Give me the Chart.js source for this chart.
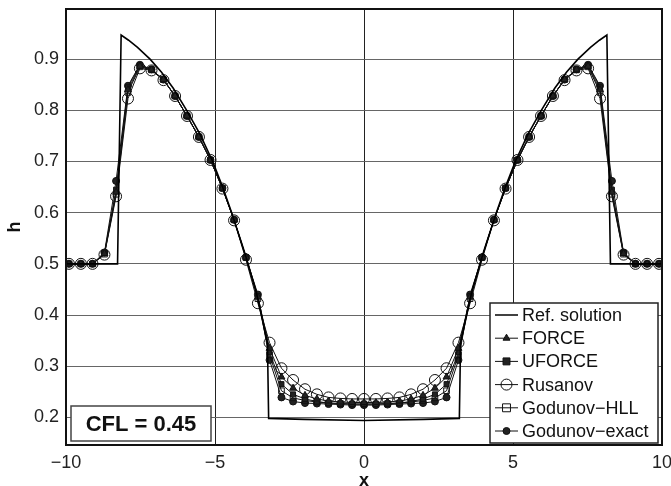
<!DOCTYPE html>
<html lang="en">
<head>
  <meta charset="UTF-8" />
  <title>h profile, CFL = 0.45</title>
  <script src="https://cdn.jsdelivr.net/npm/chart.js"></script>
  <style>
    body { margin: 0; background: #fff; }
    canvas { display: block; }
  </style>
</head>
<body>
  <canvas id="chart" width="671" height="486"></canvas>
  <script>
    const FONT = "'Liberation Sans', Arial, Helvetica, sans-serif";

    const xTickValues = [-10, -5, 0, 5, 10];
    const xTickLabels = ['\u221210', '\u22125', '0', '5', '10'];
    const yTickValues = [0.2, 0.3, 0.4, 0.5, 0.6, 0.7, 0.8, 0.9];
    const yTickLabels = ['0.2', '0.3', '0.4', '0.5', '0.6', '0.7', '0.8', '0.9'];

    // reference solution
    const refX = [-10, -8.27, -8.15, -7.9, -7.6, -7.18, -6.8, -6.4, -5.95, -5.5, -5.07, -4.75, -4.44, -4.0, -3.6, -3.24, -3.2, -2.0, 0,
                  2.0, 3.2, 3.24, 3.6, 4.0, 4.44, 4.75, 5.07, 5.5, 5.95, 6.4, 6.8, 7.18, 7.6, 7.9, 8.15, 8.27, 10];
    const refH = [0.5, 0.5, 0.947, 0.937, 0.923, 0.9, 0.875, 0.843, 0.8, 0.753, 0.699, 0.651, 0.6, 0.521, 0.441, 0.345, 0.198, 0.196, 0.194,
                  0.196, 0.198, 0.345, 0.441, 0.521, 0.6, 0.651, 0.699, 0.753, 0.8, 0.843, 0.875, 0.9, 0.923, 0.937, 0.947, 0.5, 0.5];

    // cell centres of the numerical solutions
    const cellX = [-9.90, -9.50, -9.11, -8.71, -8.32, -7.92, -7.52, -7.13, -6.73, -6.34, -5.94, -5.54, -5.15, -4.75, -4.36, -3.96, -3.56,
                   -3.17, -2.77, -2.38, -1.98, -1.58, -1.19, -0.79, -0.40, 0, 0.40, 0.79, 1.19, 1.58, 1.98, 2.38, 2.77, 3.17, 3.56, 3.96,
                   4.36, 4.75, 5.15, 5.54, 5.94, 6.34, 6.73, 7.13, 7.52, 7.92, 8.32, 8.71, 9.11, 9.50, 9.90];

    const hForce = [0.5, 0.5, 0.5, 0.52, 0.64, 0.84, 0.886, 0.879, 0.86, 0.828, 0.789, 0.748, 0.703, 0.648, 0.586, 0.513, 0.435,
                    0.335, 0.279, 0.257, 0.243, 0.236, 0.232, 0.23, 0.229, 0.229, 0.229, 0.23, 0.232, 0.236, 0.243, 0.257, 0.279, 0.335,
                    0.435, 0.513, 0.586, 0.648, 0.703, 0.748, 0.789, 0.828, 0.86, 0.879, 0.886, 0.84, 0.64, 0.52, 0.5, 0.5, 0.5];
    const hUforce = [0.5, 0.5, 0.5, 0.521, 0.645, 0.845, 0.888, 0.88, 0.86, 0.828, 0.789, 0.748, 0.703, 0.648, 0.586, 0.513, 0.437,
                     0.327, 0.265, 0.245, 0.236, 0.231, 0.228, 0.227, 0.226, 0.226, 0.226, 0.227, 0.228, 0.231, 0.236, 0.245, 0.265, 0.327,
                     0.437, 0.513, 0.586, 0.648, 0.703, 0.748, 0.789, 0.828, 0.86, 0.88, 0.888, 0.845, 0.645, 0.521, 0.5, 0.5, 0.5];
    const hRusanov = [0.5, 0.5, 0.5, 0.518, 0.632, 0.823, 0.882, 0.878, 0.859, 0.828, 0.789, 0.748, 0.703, 0.647, 0.585, 0.508, 0.423,
                      0.346, 0.296, 0.273, 0.255, 0.245, 0.239, 0.237, 0.236, 0.236, 0.236, 0.237, 0.239, 0.245, 0.255, 0.273, 0.296, 0.346,
                      0.423, 0.508, 0.585, 0.647, 0.703, 0.748, 0.789, 0.828, 0.859, 0.878, 0.882, 0.823, 0.632, 0.518, 0.5, 0.5, 0.5];
    const hHll = [0.5, 0.5, 0.5, 0.519, 0.636, 0.835, 0.885, 0.879, 0.86, 0.828, 0.789, 0.748, 0.703, 0.648, 0.586, 0.512, 0.432,
                  0.322, 0.252, 0.238, 0.233, 0.23, 0.228, 0.227, 0.226, 0.226, 0.226, 0.227, 0.228, 0.23, 0.233, 0.238, 0.252, 0.322,
                  0.432, 0.512, 0.586, 0.648, 0.703, 0.748, 0.789, 0.828, 0.86, 0.879, 0.885, 0.835, 0.636, 0.519, 0.5, 0.5, 0.5];
    const hExact = [0.5, 0.5, 0.5, 0.522, 0.662, 0.848, 0.889, 0.88, 0.86, 0.828, 0.789, 0.748, 0.703, 0.648, 0.586, 0.513, 0.44,
                    0.312, 0.239, 0.231, 0.228, 0.227, 0.226, 0.225, 0.224, 0.224, 0.224, 0.225, 0.226, 0.227, 0.228, 0.231, 0.239, 0.312,
                    0.44, 0.513, 0.586, 0.648, 0.703, 0.748, 0.789, 0.828, 0.86, 0.88, 0.889, 0.848, 0.662, 0.522, 0.5, 0.5, 0.5];

    const toPoints = (xs, ys) => xs.map((x, i) => ({ x: x, y: ys[i] }));

    const series = (label, ys, style, radius, fill) => ({
      label: label,
      data: toPoints(cellX, ys),
      showLine: true,
      borderColor: '#111',
      borderWidth: 1,
      pointStyle: style,
      pointRadius: radius,
      pointBorderColor: '#111',
      pointBorderWidth: 1,
      pointBackgroundColor: fill ? '#222' : 'rgba(0,0,0,0)'
    });

    const datasets = [
      {
        label: 'Ref. solution',
        data: toPoints(refX, refH),
        showLine: true,
        borderColor: '#000',
        borderWidth: 1.6,
        pointRadius: 0
      },
      series('FORCE', hForce, 'triangle', 4, true),
      series('UFORCE', hUforce, 'rect', 3.5, true),
      series('Rusanov', hRusanov, 'circle', 5.5, false),
      series('Godunov\u2212HLL', hHll, 'rect', 4, false),
      series('Godunov\u2212exact', hExact, 'circle', 3.5, true)
    ];

    function drawMarker(ctx, ds, x, y) {
      const r = ds.pointRadius;
      if (!r) return;
      ctx.save();
      ctx.lineWidth = 1;
      ctx.strokeStyle = '#111';
      ctx.fillStyle = ds.pointBackgroundColor;
      ctx.beginPath();
      if (ds.pointStyle === 'circle') {
        ctx.arc(x, y, r, 0, Math.PI * 2);
      } else if (ds.pointStyle === 'rect') {
        const s = r / Math.SQRT2 * 1.4;
        ctx.rect(x - s, y - s, 2 * s, 2 * s);
      } else {
        ctx.moveTo(x, y - r);
        ctx.lineTo(x + r * 0.87, y + r * 0.5);
        ctx.lineTo(x - r * 0.87, y + r * 0.5);
        ctx.closePath();
      }
      ctx.fill();
      ctx.stroke();
      ctx.restore();
    }

    const annotations = {
      id: 'annotations',
      afterDraw(chart) {
        const ctx = chart.ctx;
        const ca = chart.chartArea;

        // axes box
        ctx.save();
        ctx.strokeStyle = '#111';
        ctx.lineWidth = 2;
        ctx.strokeRect(ca.left, ca.top, ca.right - ca.left, ca.bottom - ca.top);

        // CFL box
        const bx = ca.left + 5, by = ca.bottom - 39, bw = 140, bh = 35;
        ctx.fillStyle = '#fff';
        ctx.fillRect(bx, by, bw, bh);
        ctx.lineWidth = 1.5;
        ctx.strokeStyle = '#444';
        ctx.strokeRect(bx, by, bw, bh);
        ctx.fillStyle = '#111';
        ctx.font = 'bold 22px ' + FONT;
        ctx.textAlign = 'center';
        ctx.textBaseline = 'middle';
        ctx.fillText('CFL = 0.45', bx + bw / 2, by + bh / 2 + 1);

        // legend
        const lw = 168, lh = 140;
        const lx = ca.right - 4 - lw, ly = ca.bottom - 2 - lh;
        ctx.fillStyle = '#fff';
        ctx.fillRect(lx, ly, lw, lh);
        ctx.lineWidth = 1.5;
        ctx.strokeStyle = '#222';
        ctx.strokeRect(lx, ly, lw, lh);
        ctx.font = '18px ' + FONT;
        ctx.textAlign = 'left';
        chart.data.datasets.forEach((ds, i) => {
          const y = ly + 12 + i * 23.2;
          ctx.strokeStyle = '#111';
          ctx.lineWidth = ds.borderWidth;
          ctx.beginPath();
          ctx.moveTo(lx + 5, y);
          ctx.lineTo(lx + 28, y);
          ctx.stroke();
          drawMarker(ctx, ds, lx + 16.5, y);
          ctx.fillStyle = '#111';
          ctx.fillText(ds.label, lx + 32, y + 1);
        });
        ctx.restore();
      }
    };

    new Chart(document.getElementById('chart'), {
      type: 'scatter',
      data: { datasets: datasets },
      options: {
        responsive: false,
        animation: false,
        layout: { padding: { top: 9, right: 9, left: 0, bottom: 0 } },
        plugins: { legend: { display: false }, tooltip: { enabled: false } },
        scales: {
          x: {
            type: 'linear',
            min: -10,
            max: 10,
            afterBuildTicks: s => { s.ticks = xTickValues.map(v => ({ value: v })); },
            afterFit: s => { s.height = 41; s.paddingLeft = 0; s.paddingRight = 0; },
            ticks: {
              callback: (v, i) => xTickLabels[i],
              font: { family: FONT, size: 18 },
              color: '#222',
              padding: 7,
              maxRotation: 0,
              autoSkip: false
            },
            grid: { color: '#222', lineWidth: 1, drawTicks: false },
            border: { color: '#111', width: 2 },
            title: {
              display: true, text: 'x', color: '#111',
              font: { family: FONT, size: 18, weight: 'bold', lineHeight: 0.9 },
              padding: { top: 0, bottom: -3 }
            }
          },
          y: {
            type: 'linear',
            min: 0.146,
            max: 0.998,
            afterBuildTicks: s => { s.ticks = yTickValues.map(v => ({ value: v })); },
            afterFit: s => { s.width = 66; s.paddingTop = 0; s.paddingBottom = 0; },
            ticks: {
              callback: (v, i) => yTickLabels[i],
              font: { family: FONT, size: 18 },
              color: '#222',
              padding: 7,
              autoSkip: false
            },
            grid: { color: '#666', lineWidth: 1, drawTicks: false },
            border: { color: '#111', width: 2 },
            title: { display: true, text: 'h', font: { family: FONT, size: 18, weight: 'bold' }, color: '#111', padding: 4 }
          }
        }
      },
      plugins: [annotations]
    });
  </script>
</body>
</html>
